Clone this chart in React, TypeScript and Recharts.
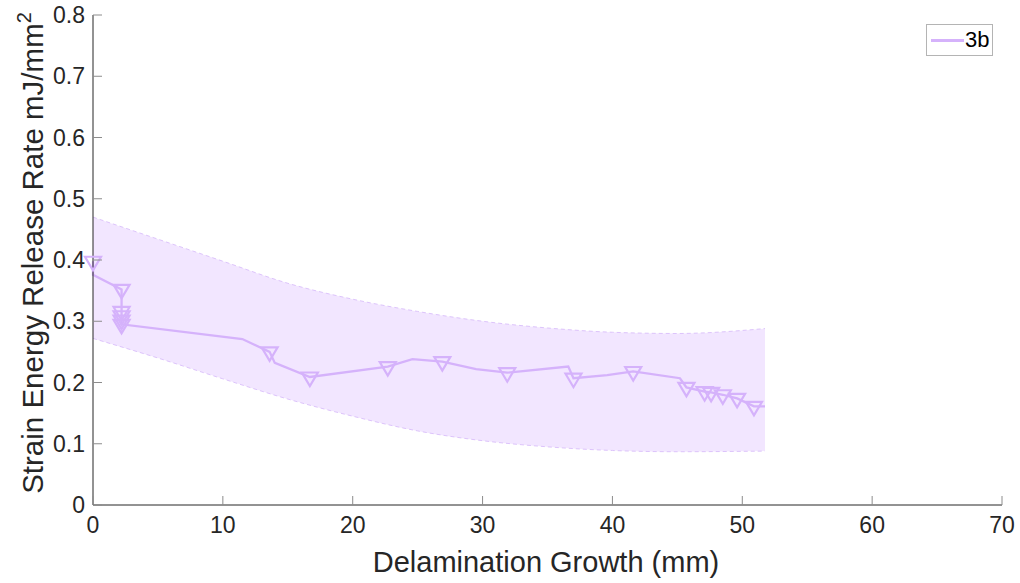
import React from 'react';
import { ComposedChart, Line, Area, Scatter, XAxis, YAxis, Legend } from 'recharts';

const seriesName = '3b';

const lineX = [0, 0, 2.2, 2.2, 11.5, 13.6, 14.0, 16.7, 22.7, 24.6, 26.9, 29.5, 31.9, 36.6, 37.0, 39.6, 41.6, 45.2, 45.7, 47.1, 47.6, 48.5, 49.6, 50.9, 51.75];
const lineY = [0.398, 0.376, 0.352, 0.295, 0.271, 0.25, 0.232, 0.209, 0.226, 0.238, 0.234, 0.222, 0.216, 0.226, 0.207, 0.212, 0.218, 0.207, 0.192, 0.185, 0.184, 0.18, 0.174, 0.161, 0.161];

const markerX = [0, 2.2, 2.2, 2.2, 2.2, 2.2, 13.6, 16.7, 22.7, 26.9, 31.9, 37.0, 41.6, 45.7, 47.1, 47.6, 48.5, 49.6, 50.9];
const markerY = [0.398, 0.352, 0.316, 0.309, 0.302, 0.295, 0.25, 0.209, 0.226, 0.234, 0.216, 0.207, 0.218, 0.192, 0.185, 0.184, 0.18, 0.174, 0.161];

const bandX = [0, 5, 10, 15, 20, 25, 30, 35, 40, 45, 51.75];
const bandLow = [0.272, 0.24, 0.206, 0.173, 0.145, 0.121, 0.105, 0.095, 0.089, 0.087, 0.088];
const bandHigh = [0.47, 0.434, 0.398, 0.362, 0.336, 0.316, 0.3, 0.289, 0.282, 0.28, 0.288];

const xTicks = [0, 10, 20, 30, 40, 50, 60, 70];
const yTicks = [0, 0.1, 0.2, 0.3, 0.4, 0.5, 0.6, 0.7, 0.8];
const yTickLabels = ['0', '0.1', '0.2', '0.3', '0.4', '0.5', '0.6', '0.7', '0.8'];

const xLabel = 'Delamination Growth (mm)';
const yLabelMain = 'Strain Energy Release Rate mJ/mm';
const yLabelSup = '2';

const lineData = lineX.map((x, i) => ({ x, y: lineY[i] }));
const markerData = markerX.map((x, i) => ({ x, y: markerY[i] }));
const bandData = bandX.map((x, i) => ({ x, range: [bandLow[i], bandHigh[i]] }));

const PURPLE = '#D5B2FB';
const BAND = '#F2E6FF';
const BAND_EDGE = '#DDC4FB';
const AXIS = '#262626';
const FONT = '"Liberation Sans", Arial, Helvetica, sans-serif';
const TICK_FS = 23;
const LABEL_FS = 29;

const XTick = (props: any) => {
  const { x, y, payload } = props;
  return (
    <g>
      <line x1={x} x2={x} y1={y} y2={y - 9} stroke="#8c8c8c" strokeWidth={1} />
      <text x={x} y={y + 28} textAnchor="middle" fontFamily={FONT} fontSize={TICK_FS} fill={AXIS}>
        {payload.value}
      </text>
    </g>
  );
};

const YTick = (props: any) => {
  const { x, y, payload } = props;
  const idx = yTicks.indexOf(payload.value);
  const label = idx >= 0 ? yTickLabels[idx] : String(payload.value);
  return (
    <g>
      <line x1={x} x2={x + 9} y1={y} y2={y} stroke="#8c8c8c" strokeWidth={1} />
      <text x={x - 8} y={y + 8} textAnchor="end" fontFamily={FONT} fontSize={TICK_FS} fill={AXIS}>
        {label}
      </text>
    </g>
  );
};

const YLabel = () => (
  <text
    transform="translate(43, 253) rotate(-90)"
    textAnchor="middle"
    fontFamily={FONT}
    fontSize={LABEL_FS + 0.5}
    fill={AXIS}
  >
    {yLabelMain}
    <tspan dy={-12} fontSize={20}>{yLabelSup}</tspan>
  </text>
);

const XLabel = () => (
  <text x={546} y={572} textAnchor="middle" fontFamily={FONT} fontSize={LABEL_FS} fill={AXIS}>
    {xLabel}
  </text>
);

const TriangleDown = (props: any) => {
  const { cx, cy } = props;
  if (cx == null || cy == null) return null;
  const w = 8;
  const hTop = 4.5;
  const hBot = 9;
  const d = `M${cx - w},${cy - hTop} L${cx + w},${cy - hTop} L${cx},${cy + hBot} Z`;
  return <path d={d} fill="none" stroke={PURPLE} strokeWidth={2.2} strokeLinejoin="miter" />;
};

const LegendBox = () => (
  <div
    style={{
      width: 65,
      height: 30,
      border: '1px solid #b4b4b4',
      background: '#fff',
      position: 'relative',
      fontFamily: FONT,
    }}
  >
    <div style={{ position: 'absolute', left: 4, top: 14, width: 33, height: 2.5, background: PURPLE }} />
    <div style={{ position: 'absolute', left: 38, top: 1, fontSize: 22, color: '#000', lineHeight: '28px' }}>
      {seriesName}
    </div>
  </div>
);

export default function App() {
  return (
    <div style={{ position: 'absolute', left: 0, top: 0, width: 1020, height: 583, background: '#fff' }}>
      <ComposedChart width={1020} height={583} margin={{ top: 15, right: 18, bottom: 0, left: 0 }}>
        <XAxis
          dataKey="x"
          type="number"
          domain={[0, 70]}
          ticks={xTicks}
          interval={0}
          height={78}
          tickLine={false}
          tickSize={0}
          tickMargin={0}
          axisLine={{ stroke: AXIS, strokeWidth: 1 }}
          tick={<XTick />}
          label={<XLabel />}
        />
        <YAxis
          type="number"
          domain={[0, 0.8]}
          ticks={yTicks}
          interval={0}
          width={93}
          tickLine={false}
          tickSize={0}
          tickMargin={0}
          axisLine={{ stroke: AXIS, strokeWidth: 1 }}
          tick={<YTick />}
          label={<YLabel />}
        />
        <Area
          data={bandData}
          dataKey="range"
          type="monotone"
          fill={BAND}
          fillOpacity={1}
          stroke={BAND_EDGE}
          strokeWidth={1}
          strokeDasharray="4 3"
          isAnimationActive={false}
          dot={false}
          activeDot={false}
          legendType="none"
        />
        <Line
          data={lineData}
          dataKey="y"
          type="linear"
          stroke={PURPLE}
          strokeWidth={2.3}
          dot={false}
          activeDot={false}
          isAnimationActive={false}
          name={seriesName}
        />
        <Scatter
          data={markerData}
          dataKey="y"
          shape={<TriangleDown />}
          isAnimationActive={false}
          legendType="none"
        />
        <Legend
          layout="vertical"
          align="center"
          verticalAlign="middle"
          wrapperStyle={{ position: 'absolute', left: 926, top: 24, width: 'auto', height: 'auto' }}
          content={<LegendBox />}
        />
      </ComposedChart>
    </div>
  );
}
